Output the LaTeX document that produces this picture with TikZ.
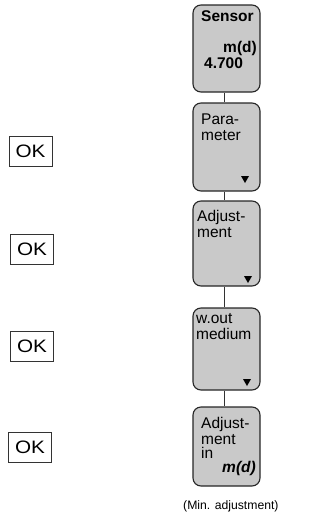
\documentclass[tikz,border=0pt]{standalone}
\usepackage{fontspec}
\setmainfont{Liberation Sans}
\begin{document}
\begin{tikzpicture}[x=1pt,y=-1pt,
  panel/.style={draw=black!85, line width=1.1pt, fill=black!21, rounded corners=8pt, minimum width=67pt, inner sep=0pt},
  okbox/.style={draw=black!80, line width=0.8pt, minimum width=43pt, minimum height=30pt, inner sep=0pt, font=\fontsize{18}{20}\selectfont},
  txt/.style={anchor=base west, inner sep=0pt, font=\fontsize{15.5}{15}\selectfont},
  btxt/.style={txt, font=\fontsize{15.5}{15}\selectfont\bfseries},
  captxt/.style={anchor=base west, inner sep=0pt, font=\fontsize{12.2}{15}\selectfont},
  arr/.style={fill=black, draw=none},
  conn/.style={draw=black!80, line width=0.9pt}]
\useasboundingbox (0,0) rectangle (320,517);
% panels
\node[panel, minimum height=87pt] (b1) at (226.5,48.5) {};
\node[panel, minimum height=88pt] (b2) at (226.5,147) {};
\node[panel, minimum height=85pt] (b3) at (226.5,243.5) {};
\node[panel, minimum height=82pt] (b4) at (226.5,349) {};
\node[panel, minimum height=79pt] (b5) at (226.5,446.5) {};
% connectors
\coordinate (lx) at (224,0);
\draw[conn] (b1.south -| lx) -- (b2.north -| lx);
\draw[conn] (b2.south -| lx) -- (b3.north -| lx);
\draw[conn] (b3.south -| lx) -- (b4.north -| lx);
\draw[conn] (b4.south -| lx) -- (b5.north -| lx);
% panel texts
\node[btxt] (t1a) at (201,21) {Sensor};
\node[btxt, anchor=base east] (t1b) at (257,52) {m(d)};
\node[btxt] (t1c) at (204,68) {4.700};
\node[txt] (t2a) at (201,124) {Para-};
\node[txt] (t2b) at (201,140) {meter};
\node[txt] (t3a) at (197,221) {Adjust-};
\node[txt] (t3b) at (197,237) {ment};
\node[txt] (t4a) at (196,323) {w.out};
\node[txt] (t4b) at (196,339) {medium};
\node[txt] (t5a) at (201,428) {Adjust-};
\node[txt] (t5b) at (201,444) {ment};
\node[txt] (t5c) at (201,458) {in};
\node[btxt, anchor=base east, font=\fontsize{15.5}{15}\selectfont\bfseries\itshape] (t5d) at (256,472) {m(d)};
% triangles
\fill[arr] (241,176) -- (249,176) -- (245,183) -- cycle;
\fill[arr] (244,276) -- (252,276) -- (248,283) -- cycle;
\fill[arr] (243,379) -- (251,379) -- (247,386) -- cycle;
% caption
\node[captxt] (capt) at (183,509) {(Min. adjustment)};
% OK boxes
\node[okbox] (ok1) at (30.5,151) {\scalebox{1.15}[1]{OK}};
\node[okbox] (ok2) at (32,249) {\scalebox{1.15}[1]{OK}};
\node[okbox] (ok3) at (32,346) {\scalebox{1.15}[1]{OK}};
\node[okbox] (ok4) at (30,447.5) {\scalebox{1.15}[1]{OK}};
\end{tikzpicture}
\end{document}
